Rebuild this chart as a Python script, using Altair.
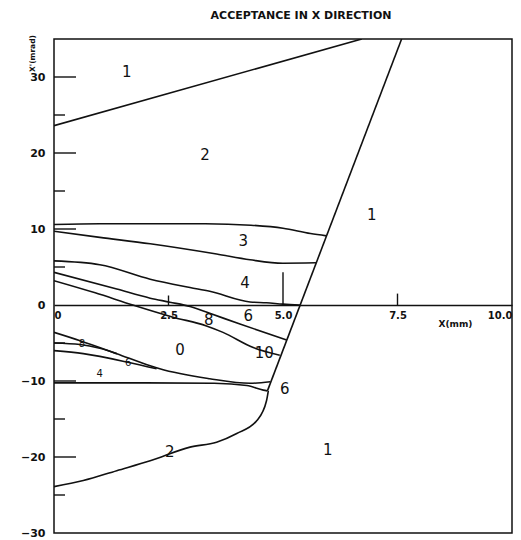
import altair as alt
import pandas as pd

# ---- curves: x in mm, y in mrad ----
top_x = [0.0, 6.72]
top_y = [23.6, 35.0]
steep_x = [4.66, 7.59]
steep_y = [-11.3, 35.0]
a_x = [0.0, 1.0, 2.2, 3.3, 4.3, 5.0, 5.6, 5.95]
a_y = [10.6, 10.7, 10.7, 10.7, 10.5, 10.1, 9.4, 9.1]
b_x = [0.0, 1.0, 2.1, 3.55, 4.28, 5.0, 5.72]
b_y = [9.7, 8.9, 8.05, 6.7, 5.95, 5.5, 5.55]
c_x = [0.0, 1.0, 2.1, 2.97, 3.4, 4.28, 4.64, 5.0, 5.37]
c_y = [5.8, 5.3, 3.4, 2.3, 1.8, 0.4, 0.3, 0.12, 0.0]
e_x = [0.0, 1.37, 2.1, 2.53, 2.97, 3.4, 4.06, 5.08]
e_y = [4.3, 2.1, 0.9, 0.37, -0.2, -1.1, -2.5, -4.6]
f_x = [0.0, 0.9, 1.72, 2.6, 3.33, 3.69, 4.35, 4.93]
f_y = [3.2, 1.6, 0.0, -1.6, -2.75, -3.6, -5.6, -6.6]
g_x = [0.0, 0.57, 1.37, 2.1, 2.31, 3.4, 4.28, 4.72]
g_y = [-3.6, -4.7, -6.4, -8.0, -8.4, -9.7, -10.3, -10.1]
h_x = [0.0, 0.57, 1.0, 1.37]
h_y = [-5.0, -5.2, -5.7, -6.4]
i_x = [0.0, 0.64, 1.59, 2.24]
i_y = [-6.0, -6.4, -7.5, -8.4]
j_x = [0.0, 2.0, 3.5, 4.21, 4.57, 4.66]
j_y = [-10.25, -10.25, -10.3, -10.6, -11.2, -11.3]
k_x = [0.0, 0.64, 1.37, 2.1, 2.97, 3.55, 3.99, 4.43, 4.64, 4.68]
k_y = [-23.9, -23.1, -21.8, -20.5, -18.7, -18.05, -16.9, -15.2, -12.6, -11.3]

# ---- region labels ----
big_text = ["1", "2", "1", "3", "4", "6", "8", "0", "10", "2", "1", "6"]
big_x = [1.59, 3.30, 6.94, 4.13, 4.17, 4.24, 3.38, 2.75, 4.59, 2.53, 5.98, 5.04]
big_y = [30.6, 19.7, 11.8, 8.4, 2.96, -1.4, -2.0, -5.9, -6.25, -19.4, -19.1, -11.1]
small_text = ["8", "6", "4"]
small_x = [0.61, 1.62, 1.0]
small_y = [-5.1, -7.6, -9.1]

# ---- axes ----
x_tick_vals = [0, 2.5, 5, 7.5, 10]
x_tick_labels = ["0", "2.5", "5.0", "7.5", "10.0"]
x_mark_vals = [2.5, 5.0, 7.5]
x_mark_tops = [1.25, 4.3, 1.5]
y_label_vals = [-30, -20, -10, 0, 10, 20, 30]
y_major = [30, 20, 10, -10, -20]
y_minor = [25, 15, 5, -5, -15, -25]

curves = {
    "top": (top_x, top_y), "steep": (steep_x, steep_y), "a": (a_x, a_y),
    "b": (b_x, b_y), "c": (c_x, c_y), "e": (e_x, e_y), "f": (f_x, f_y),
    "g": (g_x, g_y), "h": (h_x, h_y), "i": (i_x, i_y), "j": (j_x, j_y),
    "k": (k_x, k_y),
}
rows = []
for name, (xs_, ys_) in curves.items():
    for xv, yv in zip(xs_, ys_):
        rows.append({"curve": name, "x": xv, "y": yv})
lines_df = pd.DataFrame(rows)

FONT = "DejaVu Sans"
INK = "#111111"
xs = alt.Scale(domain=[0, 10], nice=False, zero=False)
ys = alt.Scale(domain=[-30, 35], nice=False, zero=False)

label_expr = " : ".join(
    f"datum.value == {v} ? '{l}'" for v, l in zip(x_tick_vals, x_tick_labels)
) + " : ''"

XAXIS = alt.Axis(
    values=x_tick_vals, offset=-228, ticks=False, domain=True,
    domainColor=INK, domainWidth=1.5, labelExpr=label_expr,
    labelFlush=True, labelPadding=5, labelFont=FONT, labelFontSize=10,
    labelFontWeight="bold", labelColor=INK, grid=False,
    title="X(mm)", titleX=401, titleY=18, titleAlign="center",
    titleBaseline="middle", titleFont=FONT, titleFontSize=9,
    titleFontWeight="bold", titleColor=INK)
YAXIS = alt.Axis(
    values=y_label_vals, ticks=False, domain=False, grid=False,
    labelPadding=9, labelFlush=False, labelFont=FONT, labelFontSize=11,
    labelFontWeight="bold", labelColor=INK,
    title="X'(mrad)", titleX=-22, titleY=14, titleAngle=-90,
    titleAlign="center", titleBaseline="middle", titleFont=FONT,
    titleFontSize=7.5, titleFontWeight="bold", titleColor=INK)


def X(f):
    return alt.X(f, scale=xs, axis=XAXIS)


def Y(f):
    return alt.Y(f, scale=ys, axis=YAXIS)


lines = alt.Chart(lines_df).mark_line(
    color=INK, strokeWidth=1.6, interpolate="monotone", clip=True
).encode(x=X("x:Q"), y=Y("y:Q"), detail="curve:N")

xticks = alt.Chart(pd.DataFrame({"x": x_mark_vals, "top": x_mark_tops})).mark_rule(
    color=INK, strokeWidth=1.4
).encode(x=X("x:Q"), y=Y("top:Q"), y2=alt.datum(0))

ymaj = alt.Chart(pd.DataFrame({"y": y_major})).mark_rule(color=INK, strokeWidth=1.4).encode(
    y=Y("y:Q"), x=alt.value(0), x2=alt.value(22))
ymin = alt.Chart(pd.DataFrame({"y": y_minor})).mark_rule(color=INK, strokeWidth=1.4).encode(
    y=Y("y:Q"), x=alt.value(0), x2=alt.value(11))

big = alt.Chart(pd.DataFrame({"x": big_x, "y": big_y, "t": big_text})).mark_text(
    font=FONT, fontSize=15, color=INK
).encode(x=X("x:Q"), y=Y("y:Q"), text="t:N")
small = alt.Chart(pd.DataFrame({"x": small_x, "y": small_y, "t": small_text})).mark_text(
    font=FONT, fontSize=10, color=INK
).encode(x=X("x:Q"), y=Y("y:Q"), text="t:N")

chart = alt.layer(lines, xticks, ymaj, ymin, big, small).properties(
    width=458, height=494,
    autosize=alt.AutoSizeParams(type="none"),
    padding={"left": 54, "top": 39, "right": 9, "bottom": 7},
    title=alt.TitleParams("ACCEPTANCE IN X DIRECTION", anchor="middle", dx=18,
                          offset=3, baseline="bottom", frame="group",
                          font=FONT, fontSize=11, fontWeight="bold", color=INK),
    background="white",
).configure_view(stroke=INK, strokeWidth=1.5)

chart.save("out.html", embed_options={"renderer": "svg", "actions": False})
